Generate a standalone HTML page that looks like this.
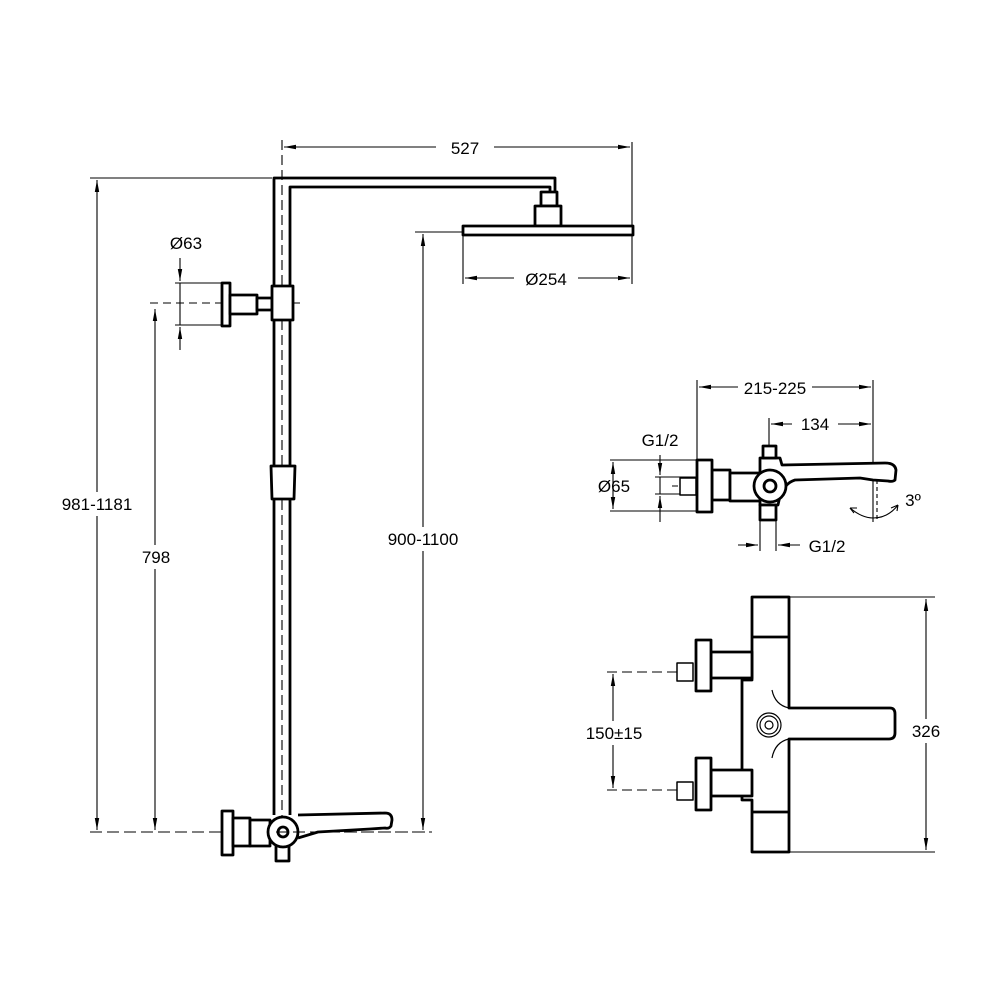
<!DOCTYPE html>
<html><head><meta charset="utf-8"><style>
html,body{margin:0;padding:0;background:#fff}
svg{display:block}
text{font-family:"Liberation Sans",sans-serif;font-size:17px;fill:#000}
</style></head><body>
<svg width="1000" height="1000" viewBox="0 0 1000 1000" xmlns="http://www.w3.org/2000/svg">
<defs>
<marker id="a" viewBox="0 0 12 6" refX="12" refY="3" markerWidth="12" markerHeight="6" orient="auto-start-reverse" markerUnits="userSpaceOnUse"><path d="M0,0.8 L12,3 L0,5.2 z" fill="#000"/></marker>
</defs>
<g stroke="#000" stroke-width="1.1" fill="none">
<line x1="90" y1="178" x2="272" y2="178"/>
<line x1="97" y1="180" x2="97" y2="830" marker-start="url(#a)" marker-end="url(#a)"/>
<line x1="155" y1="309" x2="155" y2="830" marker-start="url(#a)" marker-end="url(#a)"/>
<line x1="423" y1="234" x2="423" y2="830" marker-start="url(#a)" marker-end="url(#a)"/>
<line x1="415" y1="232" x2="462" y2="232"/>
<line x1="90" y1="832" x2="432" y2="832" stroke-dasharray="12,5"/>
<line x1="150" y1="303" x2="300" y2="303" stroke-dasharray="8,5"/>
<line x1="175" y1="283" x2="222" y2="283"/>
<line x1="175" y1="325" x2="222" y2="325"/>
<line x1="180" y1="258" x2="180" y2="281" marker-end="url(#a)"/>
<line x1="180" y1="350" x2="180" y2="327" marker-end="url(#a)"/>
<line x1="180" y1="283" x2="180" y2="325"/>
<line x1="282" y1="140" x2="282" y2="820" stroke-dasharray="10,5"/>
<line x1="284" y1="147" x2="630" y2="147" marker-start="url(#a)" marker-end="url(#a)"/>
<line x1="632" y1="142" x2="632" y2="284"/>
<line x1="463" y1="236" x2="463" y2="284"/>
<line x1="465" y1="278" x2="630" y2="278" marker-start="url(#a)" marker-end="url(#a)"/>
<line x1="697" y1="380" x2="697" y2="462"/>
<line x1="873" y1="380" x2="873" y2="522"/>
<line x1="699" y1="387" x2="871" y2="387" marker-start="url(#a)" marker-end="url(#a)"/>
<line x1="769" y1="418" x2="769" y2="455"/>
<line x1="771" y1="424" x2="871" y2="424" marker-start="url(#a)" marker-end="url(#a)"/>
<line x1="610" y1="460" x2="697" y2="460"/>
<line x1="610" y1="511" x2="697" y2="511"/>
<line x1="613" y1="462" x2="613" y2="509" marker-start="url(#a)" marker-end="url(#a)"/>
<line x1="660" y1="455" x2="660" y2="475" marker-end="url(#a)"/>
<line x1="660" y1="522" x2="660" y2="496" marker-end="url(#a)"/>
<line x1="660" y1="477" x2="660" y2="494"/>
<line x1="655" y1="477" x2="697" y2="477"/>
<line x1="655" y1="494" x2="697" y2="494"/>
<line x1="672" y1="486" x2="720" y2="486" stroke-dasharray="6,4"/>
<line x1="760" y1="520" x2="760" y2="551"/>
<line x1="776" y1="520" x2="776" y2="551"/>
<line x1="738" y1="545" x2="758" y2="545" marker-end="url(#a)"/>
<line x1="800" y1="545" x2="778" y2="545" marker-end="url(#a)"/>
<path d="M850,508 Q862,518 873,518 Q888,518 898,505" />
<path d="M898,505 l-7,3 M898,505 l-1,6" />
<path d="M850,508 l7,0 M850,508 l4,5" />
<line x1="877" y1="480" x2="877" y2="522" stroke-dasharray="4,3"/>
<line x1="790" y1="597" x2="935" y2="597"/>
<line x1="790" y1="852" x2="935" y2="852"/>
<line x1="926" y1="599" x2="926" y2="850" marker-start="url(#a)" marker-end="url(#a)"/>
<line x1="607" y1="672" x2="690" y2="672" stroke-dasharray="10,5"/>
<line x1="607" y1="790" x2="690" y2="790" stroke-dasharray="10,5"/>
<line x1="613" y1="674" x2="613" y2="788" marker-start="url(#a)" marker-end="url(#a)"/>
</g>
<g fill="#fff">
<rect x="48" y="492" width="98" height="24"/>
<rect x="136" y="545" width="40" height="24"/>
<rect x="380" y="527" width="86" height="24"/>
<rect x="436" y="136" width="58" height="22"/>
<rect x="514" y="267" width="64" height="22"/>
<rect x="738" y="376" width="74" height="22"/>
<rect x="792" y="413" width="46" height="22"/>
<rect x="576" y="721" width="76" height="24"/>
<rect x="904" y="719" width="44" height="24"/>
</g>
<g text-anchor="middle">
<text x="97" y="510">981-1181</text>
<text x="156" y="563">798</text>
<text x="423" y="545">900-1100</text>
<text x="465" y="154">527</text>
<text x="546" y="285">Ø254</text>
<text x="186" y="249">Ø63</text>
<text x="775" y="394">215-225</text>
<text x="815" y="430">134</text>
<text x="660" y="446">G1/2</text>
<text x="614" y="492">Ø65</text>
<text x="827" y="552">G1/2</text>
<text x="913" y="506">3º</text>
<text x="614" y="739">150±15</text>
<text x="926" y="737">326</text>
</g>
<g stroke="#000" stroke-width="2.8" fill="#fff" stroke-linejoin="round">
<path d="M274,815 L274,178 L555,178 L555,192 M290,815 L290,187 L550,187 L550,192" fill="none"/>
<rect x="541" y="192" width="16" height="14"/>
<rect x="535" y="206" width="26" height="20"/>
<rect x="463" y="226" width="170" height="9"/>
<rect x="222" y="283" width="8" height="43"/>
<rect x="230" y="295" width="27" height="19"/>
<rect x="257" y="298" width="15" height="12"/>
<rect x="272" y="286" width="21" height="34"/>
<path d="M271,466 L295,466 L294,499 L272,499 Z"/>
<path d="M298,815 L385,813 Q392,813 392,820 L391,826 Q389,829 385,828 L370,829 L318,832 L298,838" />
<rect x="276" y="845" width="13" height="16"/>
<rect x="222" y="811" width="11" height="44"/>
<rect x="233" y="818" width="17" height="28"/>
<rect x="250" y="820" width="20" height="26"/>
<circle cx="283" cy="832" r="15"/>
<circle cx="283" cy="832" r="5"/>
</g>
<line x1="276" y1="832" x2="432" y2="832" stroke="#000" stroke-width="1" stroke-dasharray="12,5"/>
<g stroke="#000" stroke-width="2.8" fill="#fff" stroke-linejoin="round">
<path d="M760,470 L760,458 L780,458 L782,465 L885,463 Q895,463 896,470 L895,480 Q893,482 888,481 L873,480 L860,478 L795,480 Q785,483 780,496 L778,505 L760,505 Z"/>
<rect x="763" y="446" width="13" height="12"/>
<rect x="760" y="505" width="16" height="15"/>
<rect x="712" y="470" width="18" height="30"/>
<rect x="730" y="473" width="30" height="28"/>
<circle cx="770" cy="486" r="16"/>
<circle cx="770" cy="486" r="6"/>
<rect x="697" y="460" width="15" height="52"/>
<rect x="680" y="478" width="16" height="17" stroke-width="1.5"/>
</g>
<g stroke="#000" stroke-width="2.8" fill="#fff" stroke-linejoin="round">
<path d="M752,597 L789,597 L789,708 L890,708 Q895,708 895,714 L895,733 Q895,739 889,739 L789,739 L789,852 L752,852 L752,800 L742,800 L742,680 L752,680 Z"/>
<line x1="752" y1="637" x2="789" y2="637"/>
<line x1="752" y1="812" x2="789" y2="812"/>
<path d="M711,652 L752,652 L752,678 L711,678 Z"/>
<path d="M711,770 L752,770 L752,796 L711,796 Z"/>
<rect x="696" y="640" width="15" height="51"/>
<rect x="696" y="758" width="15" height="52"/>
<rect x="677" y="663" width="16" height="18" stroke-width="1.5"/>
<rect x="677" y="782" width="16" height="18" stroke-width="1.5"/>
</g>
<g stroke="#000" stroke-width="1.2" fill="none">
<path d="M772,690 Q775,705 789,708"/>
<path d="M772,758 Q775,742 789,739"/>
<circle cx="769" cy="725" r="12"/>
<circle cx="769" cy="725" r="9"/>
<circle cx="769" cy="725" r="4"/>
</g>
</svg>
</body></html>
